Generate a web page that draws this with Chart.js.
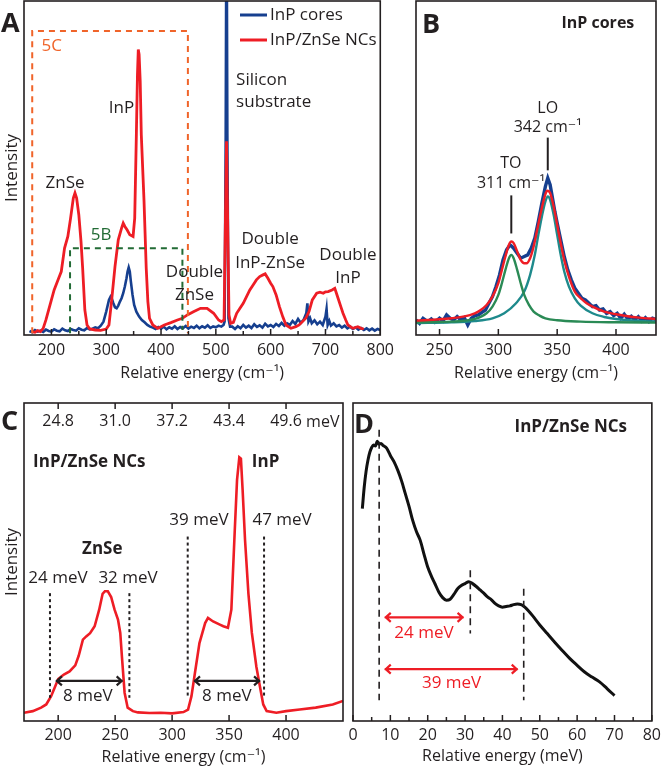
<!DOCTYPE html>
<html lang="en">
<head>
<meta charset="UTF-8">
<title>Raman spectra of InP cores and InP/ZnSe NCs</title>
<script src="https://cdn.jsdelivr.net/npm/chart.js"></script>
<style>
  html, body { margin: 0; padding: 0; background: #fff; }
  #fig { position: relative; width: 666px; height: 767px; overflow: hidden; }
  #fig canvas { position: absolute; }
</style>
</head>
<body>
<div id="fig">
  <canvas id="chartA" width="400" height="392" style="left:0;top:0"></canvas>
  <canvas id="chartB" width="266" height="392" style="left:400px;top:0"></canvas>
  <canvas id="chartC" width="346" height="387" style="left:0;top:380px"></canvas>
  <canvas id="chartD" width="326" height="387" style="left:340px;top:380px"></canvas>
</div>

<script>
// ---- A: full spectra (cm-1 vs intensity, % of plot height) ----
const aCoresE = [160,165,170,175,180,185,190,195,200,205, 210,215,220,225,230,235,240,245,250,255,
  260,265,270,275,280,285,290,295,300,305, 308,310,313,316,319,322,325,328,331,334,
  337,339,341,343,345,348,351,355,360,365, 370,375,380,385,390,395,400,405,410,415,
  420,425,430,435,440,445,450,455,460,465, 470,475,480,485,490,495,500,505,510,514,
  516,518,519.5,521,523,526,530,535,540,545, 550,555,560,565,570,575,580,585,590,595,
  600,605,610,615,620,625,630,635,640,645, 650,655,660,665,667,669,672,675,680,685,
  690,695,700,702,704,707,710,715,720,725, 730,735,740,745,750,755,760,765,770,775,
  780,785,790,795,800];
const aCoresI = [1.2,0.8,1.5,1.0,1.3,0.9,1.6,1.2,1.0,1.7, 1.3,1.1,1.9,1.4,1.2,1.8,1.5,1.3,2.0,1.6,
  1.4,2.1,1.7,1.9,2.3,2.0,2.8,4.0,7.0,10.5, 11.5,11.0,9.5,8.3,8.0,8.8,10.0,11.0,12.5,14.5,
  17.0,19.0,20.2,19.0,16.0,12.0,9.0,7.0,5.5,4.5, 3.8,3.0,2.5,2.2,1.8,2.4,1.9,2.5,1.7,2.3,
  1.9,2.6,1.8,2.4,2.0,2.7,1.9,2.5,2.1,2.8, 2.0,2.6,2.2,2.9,2.1,2.6,2.3,2.8,2.5,3.0,
  4.0,60,140,60,5,2.5,2.5,1.8,2.6,2.0, 3.0,2.2,2.8,2.1,3.2,2.4,2.9,2.2,3.4,2.6,
  3.0,2.4,3.3,2.7,3.6,2.8,3.5,3.0,4.2,3.3, 4.8,3.6,4.5,6.5,9.5,4.0,5.0,3.5,4.4,3.2,
  4.0,3.0,5.5,7.8,3.0,4.2,2.8,3.5,2.6,3.0, 2.2,2.8,2.0,2.5,1.8,2.3,1.6,2.1,1.5,2.0,
  1.4,1.9,1.3,1.8,1.5];
const aShellE = [164,170,175,180,185,190,195,200,205,212, 218,224,230,235,240,243,246,250,254,257,
  261,265,270,280,290,300,305,310,316,322, 328,331,334,338,343,349,352,355,357,358.5,
  360,362,364,367,369,373,376,379,385,394, 400,406,418,430,439,448,460,472,484,496,
  505,510,515,517.5,519.5,521.5,524,527,532,538, 544,550,556,562,568,574,580,586,590,595,
  600,604,610,616,622,628,637,646,652,658, 664,670,676,684,690,696,700,705,712,717,
  720,723,728,732,737,741,750,759,765,770];
const aShellI = [1.0,0.8,1.3,1.0,2.0,4.5,7.5,10.5,13.5,16.5, 19,26,29.5,35,41,42.5,41,36,28,20,
  7.5,3,1.8,1.5,1.4,1.8,3.0,10.5,20.5,28.5, 32,33.5,32.5,31.5,30,29.5,35,60,78,85.5,
  84,76,60,48,40,20,10,5,3,2, 2.5,3,3.7,4.5,5,6,7,8,8,6.5,
  4.5,4,4.5,35,58,35,6,3.5,3.8,6.5, 8,9.5,11.5,13.5,15,16.5,17.5,18,18.3,17,
  15.5,14.5,12,8.5,5.5,3,2,2.5,3,4, 5,7,10.5,12.5,12.8,12.5,12.9,13,13.5,14,
  12.5,11,8.5,6.5,4.5,3,2,2.5,2,1.8];
const aTickVals = [200,250,300,350,400,450,500,550,600,650,700,750,800];
const aTickLabels = ['200','','300','','400','','500','','600','','700','','800'];

// ---- B: InP cores, zoom on the InP modes with the two-peak fit ----
const bCoresE = [230,233,236,240,243,246,250,253,256,259, 262,265,268,271,274,277,280,283,286,289,
  292,295,298,301,304,307,310,313,316,319, 322,325,328,331,334,337,340,342,344,346,
  348,350,353,356,359,362,365,368,371,374, 377,380,383,386,389,392,395,398,401,404,
  407,410,413,416,419,422,425,428,431,434];
const bCoresI = [4.5,3.5,5.0,4.0,4.8,3.8,5.0,4.2,6.0,5.0, 4.5,5.5,4.6,5.2,3.0,5.0,5.8,6.0,6.8,7.5,
  9.5,11.5,14.5,18,22.5,25.5,27,26,24.5,23, 23.5,24,26,29,34,39.5,44.5,47,45,41,
  37,33.5,28.5,23.5,19.5,16.5,14,12.5,11,10.5, 9.5,8.5,8.8,7.5,7.8,6.5,7.0,5.8,6.5,5.0,
  6.2,4.8,5.6,4.5,5.5,4.2,5.2,4.0,5.0,4.6];
const bFitE = [230,250,260,270,280,285,290,295,300,303, 306,309,311,313,316,319,322,324,327,330,
  333,336,339,341,342,344,347,350,353,356, 360,365,370,375,380,390,400,410,420,434];
const bFitI = [4.3,4.7,5.0,5.5,6.5,7.5,9.0,11.5,15.5,19.5, 23.5,27,28,27.5,25,22.5,21.5,21.5,23,26.5,
  31.5,36.5,41,43,43.2,42.5,38.5,33,27.5,22.5, 17.5,13,11,9.5,8.5,7.0,6.2,5.6,5.2,4.8];
const bToE = [230,260,280,290,295,300,303,306,309,311,313,316,319,322,326,330,335,340,350,370,400,434];
const bToI = [3.8,4.0,4.8,6.5,8.5,12,15.5,19.5,23,24,23,19.5,15.5,12,9,7,5.8,5.0,4.4,4.0,3.8,3.7];
const bLoE = [230,260,280,295,305,315,322,327,331,334,337,340,342,344,347,350,353,356,360,365,370,380,390,400,420,434];
const bLoI = [3.6,3.8,4.2,5.0,6.5,9.5,13,18,24,30,35.5,40,41.5,40.5,36,30,24,19,14.5,11,8.8,6.5,5.4,4.8,4.2,4.0];
const bTickVals = [250,300,350,400];
const bTickLabels = ['250','300','350','400'];

// ---- C: InP/ZnSe NCs, ZnSe and InP bands ----
const cShellE = [170,177.7,185,189.5,193.8,196.8,200,205,210,215, 218,221.7,224.6,228,232,236,239,241,243.6,246.5,
  249.5,252.5,254.5,256,258.3,261,265.6,270,280,290, 300,310,314,317,320,324,329,331.5,336,341.9,
  345,349,352,355,357,359,360.4,361.9,364,367, 370,374,377,380,383,391.5,400,412,426,441,450];
const cShellI = [2.6,3.1,4.2,5.2,7.8,10.4,13.2,14.6,15.6,17.5, 20.5,25.6,26.6,27.6,29.8,35,40,40.8,40.8,39,
  35,31.9,27.7,20,8.9,4.2,3.1,2.7,2.5,2.6, 2.4,2.8,3.6,7.8,15,24.5,30.8,32.4,31.3,30.3,
  29.8,29.3,35,60,75.8,82.9,82.5,72.6,57,40, 27.7,17,11,5.2,3.1,2.6,3.1,3.6,4.2,5.2,6.3];
const cTickVals = [200,250,300,350,400];
const cTickLabels = ['200','250','300','350','400'];
const cTopLabels = ['24.8','31.0','37.2','43.4','49.6'];

// ---- D: InP/ZnSe NCs, low-energy spectrum in meV ----
const dE = [2.5,3,3.5,4,4.5,5,5.5,6,6.5,7, 7.5,8,9,10,11,12,13,14,15,16,
  17,18,19,20,21,22,23,24,25,26, 27,28,29,30,31,32,33,34,35,36,
  37,38,39,40,41,42,43,44,45,46, 47,48,50,52,54,56,58,60,62,64, 66,68,70];
const dI = [66.8,73.5,78.5,82,84.5,86,86.8,86.5,88,87, 87.3,86.7,85.8,83.5,81.5,78.8,75.5,71.5,67.5,63,
  59.5,56.8,52.5,48.4,45.5,43,40.5,38.8,38,38.3, 39.8,41.6,42.6,43.2,43.8,43.2,42.3,41.2,40.2,39,
  38.2,37,36.2,35.8,36,36.2,36.6,36.8,36.6,35.8, 34.6,33.2,30.2,27.5,24.8,22.2,19.7,17.5,15.4,13.8, 12.3,10.2,8.0];
const dTickVals = [0,5,10,15,20,25,30,35,40,45,50,55,60,65,70,75,80];
const dTickLabels = ['0','','10','','20','','30','','40','','50','','60','','70','','80'];

const FONT = '"Open Sans", "DejaVu Sans", sans-serif';
const INK = '#231f20';
const BLUE = '#163f8f', RED = '#ee1d25', ORANGE = '#f0642a', DKGREEN = '#226b35';
Chart.defaults.font.family = FONT;
Chart.defaults.color = INK;

const pts = (xs, ys) => xs.map((x, i) => ({ x, y: ys[i] }));

// annotations, inward ticks, frame and panel letter
const decor = {
  id: 'decor',
  afterDatasetsDraw(chart, args, o) {
    const ctx = chart.ctx, a = chart.chartArea;
    const X = v => chart.scales.x.getPixelForValue(v);
    const Y = v => chart.scales.y.getPixelForValue(v);
    ctx.save();
    (o.paths || []).forEach(p => {
      ctx.beginPath();
      ctx.setLineDash(p.dash || []);
      ctx.strokeStyle = p.color || INK;
      ctx.lineWidth = p.width || 1.5;
      p.pts.forEach(([x, y], i) => i ? ctx.lineTo(X(x), Y(y)) : ctx.moveTo(X(x), Y(y)));
      ctx.stroke();
    });
    ctx.setLineDash([]);
    (o.arrows || []).forEach(r => {
      const x0 = X(r.from), x1 = X(r.to), y = Y(r.y), h = 6;
      ctx.strokeStyle = r.color || INK;
      ctx.lineWidth = 2.2;
      ctx.beginPath();
      ctx.moveTo(x0, y); ctx.lineTo(x1, y);
      ctx.moveTo(x0 + h, y - h * 0.75); ctx.lineTo(x0 + 1, y); ctx.lineTo(x0 + h, y + h * 0.75);
      ctx.moveTo(x1 - h, y - h * 0.75); ctx.lineTo(x1 - 1, y); ctx.lineTo(x1 - h, y + h * 0.75);
      ctx.stroke();
    });
    ctx.textBaseline = 'middle';
    (o.notes || []).forEach(n => {
      ctx.font = (n.bold ? '700 ' : '') + (n.size || 17) + 'px ' + FONT;
      ctx.fillStyle = n.color || INK;
      ctx.textAlign = n.align || 'center';
      ctx.fillText(n.s, X(n.x), Y(n.y));
    });
    if (o.legend) {
      const L = o.legend;
      L.order.forEach((di, k) => {
        const ds = chart.data.datasets[di], y = L.y + k * L.dy;
        ctx.strokeStyle = ds.borderColor; ctx.lineWidth = 3;
        ctx.beginPath(); ctx.moveTo(L.x, y); ctx.lineTo(L.x + L.len, y); ctx.stroke();
        ctx.fillStyle = INK; ctx.font = '17px ' + FONT; ctx.textAlign = 'left';
        ctx.fillText(ds.label, L.x + L.len + 3, y);
      });
    }
    // tick marks point into the plot
    ctx.strokeStyle = INK; ctx.lineWidth = 1.5;
    ['x', 'x2'].forEach(key => {
      const s = chart.scales[key];
      if (!s) return;
      const top = s.options.position === 'top';
      s.ticks.forEach((t, i) => {
        const px = s.getPixelForValue(t.value), len = (top || t.label) ? 6 : 4;
        const y0 = top ? a.top : a.bottom;
        ctx.beginPath(); ctx.moveTo(px, y0); ctx.lineTo(px, y0 + (top ? len : -len)); ctx.stroke();
        // secondary (meV) labels sit inside the frame, under the top ticks
        if (top && o.topLabels) {
          ctx.fillStyle = INK; ctx.font = '16px ' + FONT; ctx.textAlign = 'center';
          ctx.fillText(o.topLabels[i], px, a.top + o.topDy);
        }
      });
    });
    ctx.lineWidth = 1.6;
    ctx.strokeRect(a.left, a.top, a.right - a.left, a.bottom - a.top);
    ctx.fillStyle = INK;
    ctx.font = '700 27px ' + FONT;
    ctx.textAlign = 'left'; ctx.textBaseline = 'alphabetic';
    ctx.fillText(o.letter[0], o.letter[1], o.letter[2]);
    ctx.restore();
  }
};

function xAxis(min, max, vals, labels, title, h, tickPad, titlePad) {
  return {
    type: 'linear', min, max,
    grid: { display: false, drawTicks: false },
    border: { display: false },
    afterBuildTicks: s => { s.ticks = vals.map(v => ({ value: v })); },
    afterFit: s => { s.height = h; },
    ticks: { autoSkip: false, maxRotation: 0, padding: tickPad, color: INK,
             font: { size: 16 }, callback: (v, i) => labels[i] },
    title: { display: true, text: title, color: INK, font: { size: 16 },
             padding: { top: 0, bottom: titlePad } }
  };
}

function yAxis(title, w) {
  return {
    type: 'linear', min: 0, max: 100, display: !!title,
    grid: { display: false, drawTicks: false },
    border: { display: false },
    ticks: { display: false },
    afterFit: s => { s.width = w; },
    title: { display: !!title, text: title, color: INK, font: { size: 17 }, padding: { top: 2, bottom: 0 } }
  };
}

function line(label, xs, ys, color, width, smooth) {
  return { label, data: pts(xs, ys), borderColor: color, borderWidth: width, fill: false,
           pointRadius: 0, cubicInterpolationMode: smooth ? 'monotone' : 'default', tension: 0 };
}

function panel(id, datasets, scales, padding, decorOpts) {
  return new Chart(document.getElementById(id), {
    type: 'line',
    data: { datasets },
    options: {
      responsive: false, animation: false, events: [],
      layout: { padding },
      plugins: { legend: { display: false }, tooltip: { enabled: false }, decor: decorOpts },
      scales
    },
    plugins: [decor]
  });
}

const CM = 'Relative energy (cm\u207B\u00B9)';

// A
panel('chartA',
  [line('InP/ZnSe NCs', aShellE, aShellI, RED, 2.8), line('InP cores', aCoresE, aCoresI, BLUE, 2.6)],
  { x: xAxis(150, 800, aTickVals, aTickLabels, CM, 57, 6, 9), y: yAxis('Intensity', 24) },
  { left: 0, right: 14, top: 1, bottom: 0 },
  {
    letter: ['A', 1, 32],
    legend: { x: 240, y: 15, dy: 25, len: 27, order: [1, 0] },
    paths: [
      { pts: [[165, 0.5], [165, 91], [449, 91], [449, 0.5]], color: ORANGE, dash: [6, 5], width: 2 },
      { pts: [[234, 0.5], [234, 26], [439, 26], [439, 1.5]], color: DKGREEN, dash: [6, 5], width: 2 }
    ],
    notes: [
      { s: '5C', x: 182, y: 86.6, align: 'left', color: ORANGE },
      { s: '5B', x: 272, y: 29.9, align: 'left', color: DKGREEN },
      { s: 'ZnSe', x: 225, y: 45.4 },
      { s: 'InP', x: 328, y: 68 },
      { s: 'Silicon', x: 537, y: 76.4, align: 'left' },
      { s: 'substrate', x: 537, y: 69.6, align: 'left' },
      { s: 'Double', x: 461, y: 18.8 }, { s: 'ZnSe', x: 461, y: 11.9 },
      { s: 'Double', x: 599, y: 28.7 }, { s: 'InP-ZnSe', x: 599, y: 21.5 },
      { s: 'Double', x: 741, y: 23.9 }, { s: 'InP', x: 741, y: 17 }
    ]
  });

// B
panel('chartB',
  [line('Fit', bFitE, bFitI, RED, 2.4, true),
   line('TO', bToE, bToI, '#2a8a55', 2.4, true),
   line('LO', bLoE, bLoI, '#1e8a8c', 2.4, true),
   line('InP cores', bCoresE, bCoresI, BLUE, 3.4)],
  { x: xAxis(230, 434, bTickVals, bTickLabels, CM, 57, 6, 9), y: yAxis('', 0) },
  { left: 16, right: 10, top: 1, bottom: 0 },
  {
    letter: ['B', 22, 33],
    paths: [
      { pts: [[342, 59.1], [342, 49.3]], width: 2 },
      { pts: [[311, 41.8], [311, 30.4]], width: 2 }
    ],
    notes: [
      { s: 'InP cores', x: 384.6, y: 93.4, bold: true, size: 16 },
      { s: 'LO', x: 342, y: 67.8, size: 16 },
      { s: '342 cm\u207B\u00B9', x: 342, y: 62.1, size: 16 },
      { s: 'TO', x: 310.7, y: 51.3, size: 16 },
      { s: '311 cm\u207B\u00B9', x: 310.7, y: 45.4, size: 16 }
    ]
  });

// C
const cX = xAxis(170, 450, cTickVals, cTickLabels, CM, 46, 5, 0);
const cX2 = {
  type: 'linear', position: 'top', min: 170, max: 450,
  grid: { display: false, drawTicks: false },
  border: { display: false },
  afterBuildTicks: s => { s.ticks = cTickVals.map(v => ({ value: v })); },
  afterFit: s => { s.height = 23; },
  ticks: { display: false }
};
panel('chartC',
  [line('InP/ZnSe NCs', cShellE, cShellI, RED, 2.6)],
  { x: cX, x2: cX2, y: yAxis('Intensity', 24) },
  { left: 0, right: 3, top: 0, bottom: 0 },
  {
    letter: ['C', 1, 50],
    topLabels: cTopLabels, topDy: 18.5,
    paths: [
      { pts: [[192.8, 40.2], [192.8, 7.3]], dash: [3, 3], width: 2 },
      { pts: [[262.5, 40.2], [262.5, 7.3]], dash: [3, 3], width: 2 },
      { pts: [[313.7, 58], [313.7, 7.3]], dash: [3, 3], width: 2 },
      { pts: [[380.7, 58], [380.7, 7.3]], dash: [3, 3], width: 2 }
    ],
    arrows: [
      { from: 198, to: 256.6, y: 12.6 },
      { from: 319.2, to: 377.2, y: 12.6 }
    ],
    notes: [
      { s: 'meV', x: 417.6, y: 94, size: 16, align: 'left' },
      { s: 'InP/ZnSe NCs', x: 178, y: 81.5, bold: true, align: 'left' },
      { s: 'InP', x: 370, y: 81.5, bold: true, align: 'left' },
      { s: 'ZnSe', x: 238.7, y: 53.9, bold: true },
      { s: '24 meV', x: 199.8, y: 44.8 }, { s: '32 meV', x: 261.3, y: 44.8 },
      { s: '39 meV', x: 323.6, y: 63.3 }, { s: '47 meV', x: 396.5, y: 63.3 },
      { s: '8 meV', x: 226, y: 7.8 }, { s: '8 meV', x: 348, y: 7.8 }
    ]
  });

// D
panel('chartD',
  [line('InP/ZnSe NCs', dE, dI, '#111111', 3, true)],
  { x: xAxis(0, 80, dTickVals, dTickLabels, 'Relative energy (meV)', 46, 5, 1), y: yAxis('', 0) },
  { left: 13, right: 10, top: 23, bottom: 0 },
  {
    letter: ['D', 14, 53],
    paths: [
      { pts: [[7, 91.6], [7, 6.5]], dash: [7, 5], width: 1.6 },
      { pts: [[31.4, 47.4], [31.4, 27.5]], dash: [7, 5], width: 1.6 },
      { pts: [[45.7, 41.6], [45.7, 6.5]], dash: [7, 5], width: 1.6 }
    ],
    arrows: [
      { from: 8.5, to: 29.6, y: 32.6, color: RED },
      { from: 8.5, to: 44.1, y: 16.3, color: RED }
    ],
    notes: [
      { s: 'InP/ZnSe NCs', x: 58.3, y: 92.5, bold: true },
      { s: '24 meV', x: 19, y: 27.7, color: RED },
      { s: '39 meV', x: 26.4, y: 12, color: RED }
    ]
  });
</script>
</body>
</html>
